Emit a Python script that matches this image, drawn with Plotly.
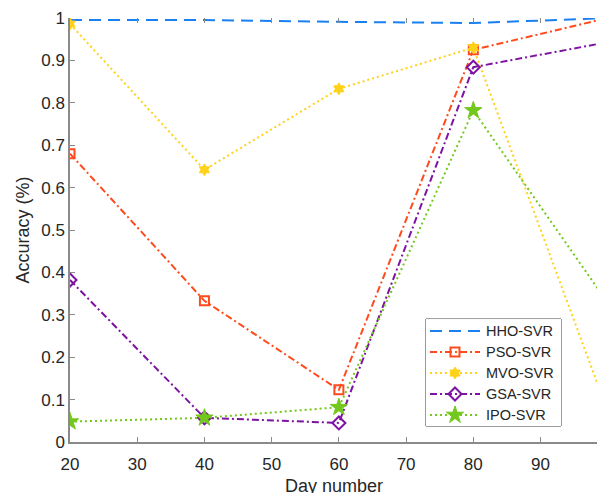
import plotly.graph_objects as go

# Day numbers and accuracy per model
days = [20, 40, 60, 80, 100]
hho_svr = [0.995, 0.995, 0.991, 0.988, 1.000]
pso_svr = [0.680, 0.333, 0.123, 0.925, 1.000]
mvo_svr = [0.986, 0.642, 0.833, 0.930, 0.072]
gsa_svr = [0.382, 0.057, 0.045, 0.884, 0.943]
ipo_svr = [0.048, 0.057, 0.082, 0.782, 0.328]

model_names = ["HHO-SVR", "PSO-SVR", "MVO-SVR", "GSA-SVR", "IPO-SVR"]

x_ticks = [20, 30, 40, 50, 60, 70, 80, 90]
y_ticks = [0, 0.1, 0.2, 0.3, 0.4, 0.5, 0.6, 0.7, 0.8, 0.9, 1]
y_tick_text = ["0", "0.1", "0.2", "0.3", "0.4", "0.5", "0.6", "0.7", "0.8", "0.9", "1"]

DASH = "12px,7px"
DASHDOT = "7px,3px,2px,3px"
DOT = "2px,3px"

# name, values, colour, dash pattern, marker symbol, marker size
series = [
    (model_names[0], hho_svr, "#1a80f0", DASH, None, 0),
    (model_names[1], pso_svr, "#ff4a1c", DASHDOT, "square-open", 9),
    (model_names[2], mvo_svr, "#ffd21a", DOT, "hexagram", 9),
    (model_names[3], gsa_svr, "#7d12a3", DASHDOT, "diamond-open", 10),
    (model_names[4], ipo_svr, "#72c81c", DOT, "star", 13),
]


def marker_style(symbol, size, color):
    width = 2 if "open" in symbol else 1
    return dict(symbol=symbol, size=size, color=color,
                line=dict(color=color, width=width))


fig = go.Figure()
for name, vals, color, dash, symbol, size in series:
    fig.add_trace(go.Scatter(
        x=days, y=vals, name=name,
        mode="lines+markers" if symbol else "lines",
        line=dict(color=color, width=2, dash=dash),
        marker=marker_style(symbol, size, color) if symbol else None,
        showlegend=False,
    ))

# invisible trace carrying the top tick marks
fig.add_trace(go.Scatter(x=[20], y=[0], xaxis="x2", showlegend=False,
                         mode="markers", marker=dict(opacity=0), hoverinfo="skip"))

# Legend box: its own small subplot measured in pixels (135 x 107)
leg_x0, leg_x1 = 0.6755, 0.9317
leg_y0, leg_y1 = 0.0377, 0.2900
row_y = [95, 74, 53, 32, 11]
for (name, vals, color, dash, symbol, size), ry in zip(series, row_y):
    fig.add_trace(go.Scatter(
        x=[4, 54], y=[ry, ry], xaxis="x3", yaxis="y3", mode="lines",
        line=dict(color=color, width=2, dash=dash),
        showlegend=False, hoverinfo="skip",
    ))
    if symbol:
        fig.add_trace(go.Scatter(
            x=[29], y=[ry], xaxis="x3", yaxis="y3", mode="markers",
            marker=marker_style(symbol, size, color),
            showlegend=False, hoverinfo="skip",
        ))
    fig.add_annotation(x=58, y=ry, xref="x3", yref="y3", text=name,
                       showarrow=False, xanchor="left", yanchor="middle",
                       font=dict(size=14.5, color="#262626"))

fig.add_shape(type="rect", xref="paper", yref="paper",
              x0=leg_x0, x1=leg_x1, y0=leg_y0, y1=leg_y1,
              line=dict(color="#3a3a3a", width=1), fillcolor="white",
              layer="below")

# x-axis title placed below the tick labels
fig.add_annotation(x=0.5, y=-0.104, xref="paper", yref="paper",
                   text="Day number", showarrow=False,
                   xanchor="center", yanchor="middle",
                   font=dict(size=18, color="#262626"))

axis_gray = "#8a8a8a"
font_color = "#262626"

fig.update_layout(
    width=597, height=493,
    margin=dict(l=70, r=0, t=18, b=51),
    paper_bgcolor="white", plot_bgcolor="white",
    showlegend=False,
    font=dict(family="Liberation Sans, Arial, sans-serif", size=17, color=font_color),
    xaxis=dict(
        range=[20, 98.4], tickvals=x_ticks, ticks="inside", ticklen=5,
        tickcolor=axis_gray, showline=True, linecolor=axis_gray, linewidth=1.5,
        showgrid=False, zeroline=False, ticklabelstandoff=6,
        automargin=False,
    ),
    xaxis2=dict(
        range=[20, 98.4], tickvals=x_ticks, ticks="inside", ticklen=5,
        tickcolor=axis_gray, showticklabels=False, showline=False,
        showgrid=False, zeroline=False, overlaying="x", side="top",
    ),
    yaxis=dict(
        range=[0, 1], tickvals=y_ticks, ticktext=y_tick_text, ticks="inside",
        ticklen=5, tickcolor=axis_gray, showline=True, linecolor=axis_gray,
        linewidth=1.5, showgrid=False, zeroline=False,
        title=dict(text="Accuracy (%)", font=dict(size=18), standoff=7),
    ),
    xaxis3=dict(domain=[leg_x0, leg_x1], range=[0, 135], anchor="y3",
                visible=False, fixedrange=True),
    yaxis3=dict(domain=[leg_y0, leg_y1], range=[0, 107], anchor="x3",
                visible=False, fixedrange=True),
)

fig.write_html("out.html")
